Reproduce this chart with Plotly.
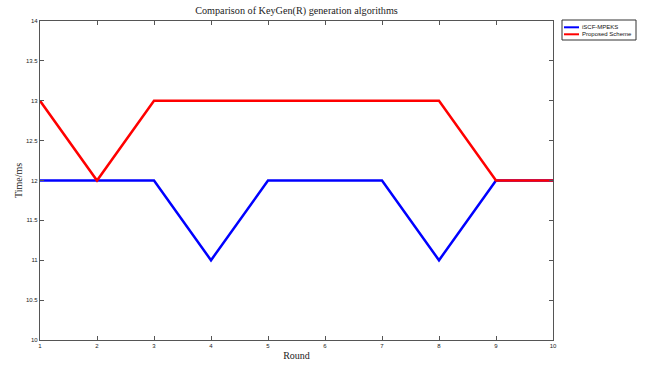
import plotly.graph_objects as go

rounds = [1, 2, 3, 4, 5, 6, 7, 8, 9, 10]
iscf_mpeks = [12, 12, 12, 11, 12, 12, 12, 11, 12, 12]
proposed = [13, 12, 13, 13, 13, 13, 13, 13, 12, 12]

x_ticks = [1, 2, 3, 4, 5, 6, 7, 8, 9, 10]
y_ticks = [10, 10.5, 11, 11.5, 12, 12.5, 13, 13.5, 14]

series = [("iSCF-MPEKS", iscf_mpeks, "#0000ff"),
          ("Proposed Scheme", proposed, "#ff0000")]

serif = "Liberation Serif, DejaVu Serif, serif"
sans = "Liberation Sans, Arial, sans-serif"

W, H = 645, 365
L, R, T, B = 40, 92, 21, 25
plot_w = W - L - R
plot_h = H - T - B


def px_x(p):
    return (p - L) / plot_w


def px_y(p):
    return 1 - (p - T) / plot_h


fig = go.Figure()
for name, vals, color in series:
    fig.add_trace(go.Scatter(x=rounds, y=vals, mode="lines", name=name,
                             line=dict(color=color, width=2.5)))

axis_common = dict(
    showgrid=False, zeroline=False, showline=True, linecolor="#555555", linewidth=1.3,
    mirror="ticks", ticks="inside", ticklen=4, tickwidth=1, tickcolor="#555555",
    tickfont=dict(family=sans, size=6, color="#222222"),
)

# compact boxed legend drawn next to the axes
shapes = [dict(type="rect", xref="paper", yref="paper",
               x0=px_x(562), x1=px_x(636), y0=px_y(40), y1=px_y(20),
               line=dict(color="#333333", width=1), fillcolor="white", layer="above")]
annotations = []
for i, (name, vals, color) in enumerate(series):
    yy = px_y(27.3 + 7 * i)
    shapes.append(dict(type="line", xref="paper", yref="paper",
                       x0=px_x(564), x1=px_x(579), y0=yy, y1=yy,
                       line=dict(color=color, width=2)))
    annotations.append(dict(text=name, xref="paper", yref="paper", x=px_x(579.5), y=yy,
                            xanchor="left", yanchor="middle", showarrow=False,
                            font=dict(family=sans, size=6, color="#111111")))

fig.update_layout(
    width=W, height=H,
    margin=dict(l=L, r=R, t=T, b=B, autoexpand=False),
    paper_bgcolor="white", plot_bgcolor="white",
    showlegend=False,
    title=dict(text="Comparison of KeyGen(R) generation algorithms",
               font=dict(family=serif, size=10.2, color="#222222"),
               xref="paper", x=0.5, xanchor="center", y=0.98, yanchor="top"),
    xaxis=dict(range=[1, 10], tickvals=x_ticks,
               title=dict(text="Round", font=dict(family=serif, size=10, color="#222222"), standoff=3),
               **axis_common),
    yaxis=dict(range=[10, 14], tickvals=y_ticks,
               title=dict(text="Time/ms", font=dict(family=serif, size=10, color="#222222"), standoff=1),
               **axis_common),
    shapes=shapes,
    annotations=annotations,
)

fig.write_html("out.html")
